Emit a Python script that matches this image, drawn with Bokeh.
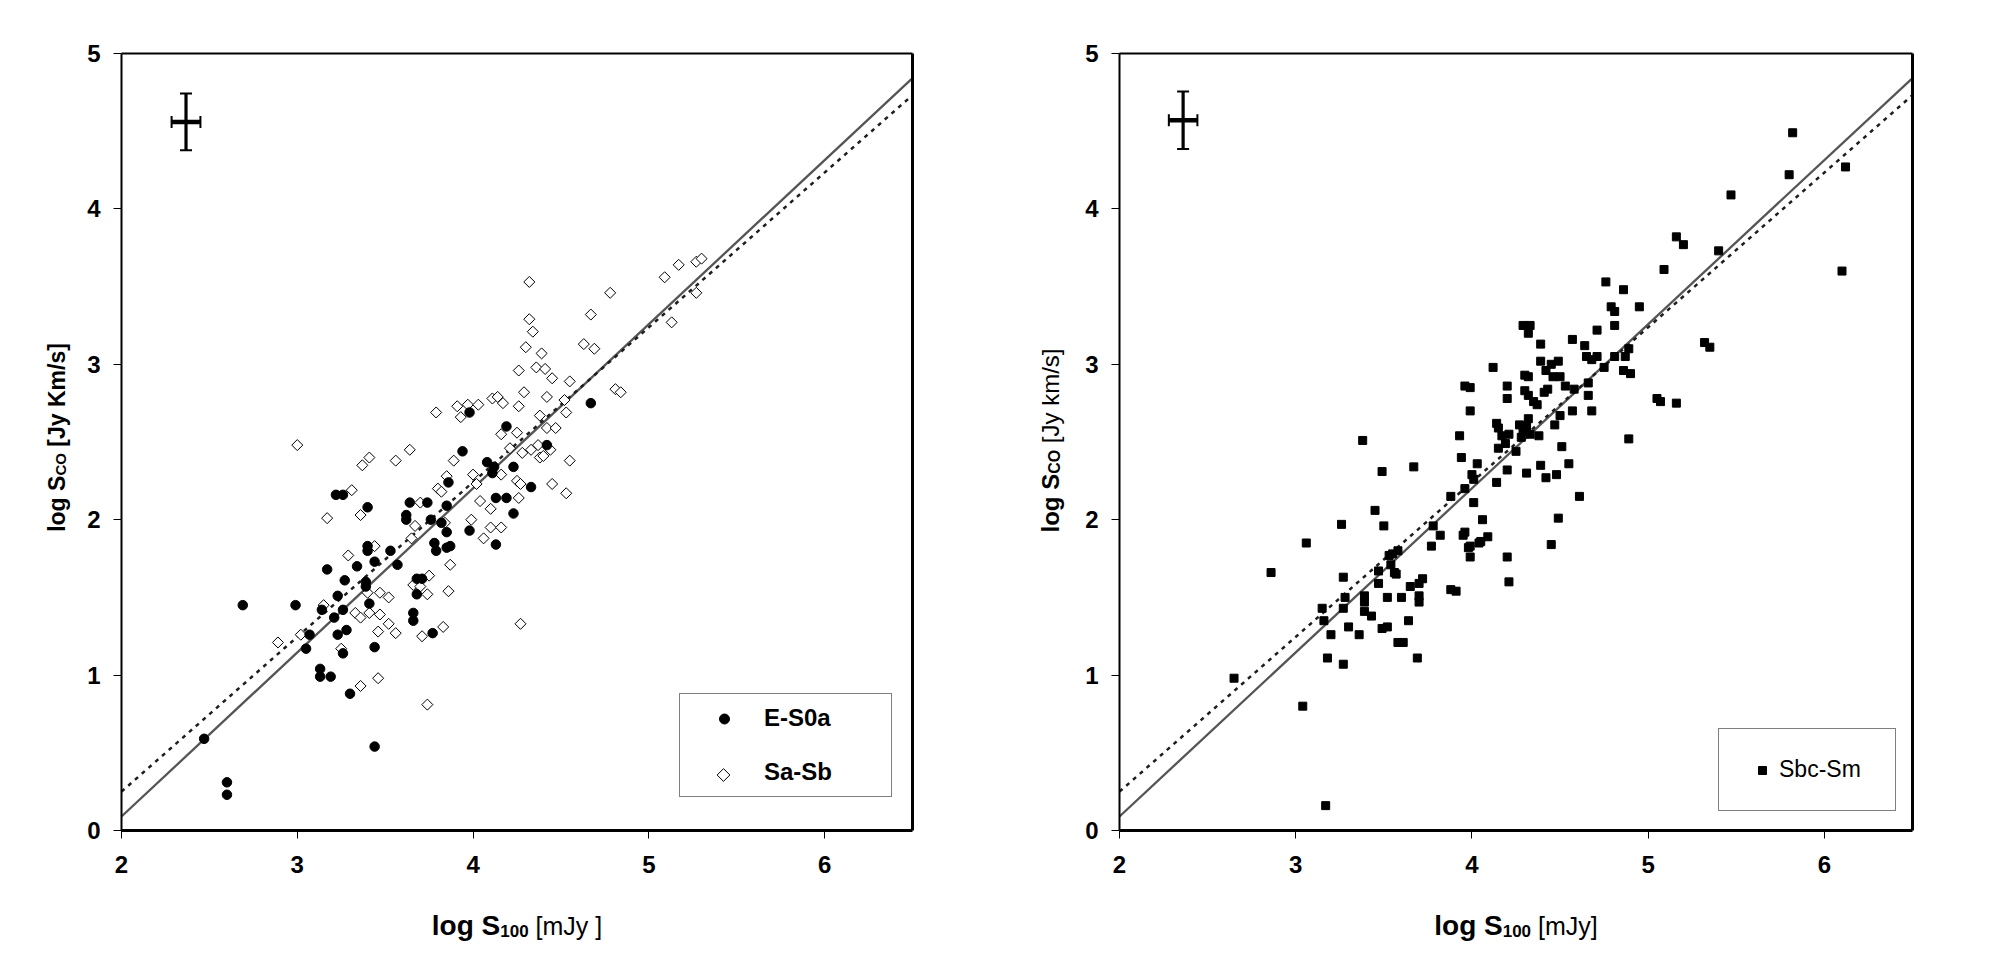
import numpy as np
from bokeh.plotting import figure
from bokeh.models import (ColumnDataSource, Whisker, TeeHead, Label, Legend,
                          LegendItem, LinearAxis, Range1d, FixedTicker)
from bokeh.layouts import row
from bokeh.embed import file_html
from bokeh.resources import INLINE

# ---------------- data ----------------
x_ticks = [2, 3, 4, 5, 6]
y_ticks = [0, 1, 2, 3, 4, 5]
x_limits = (2, 6.5)
y_limits = (0, 5)

es0a_x = [2.47, 2.60, 2.60, 2.69, 2.99, 3.05, 3.07, 3.14, 3.13, 3.13,
          3.19, 3.17, 3.21, 3.22, 3.26, 3.23, 3.23, 3.27, 3.26, 3.28,
          3.26, 3.30, 3.34, 3.39, 3.39, 3.40, 3.40, 3.40, 3.41, 3.44,
          3.44, 3.44, 3.53, 3.57, 3.62, 3.62, 3.64, 3.66, 3.66, 3.68,
          3.68, 3.71, 3.76, 3.74, 3.77, 3.78, 3.79, 3.82, 3.85, 3.85,
          3.85, 3.87, 3.86, 3.94, 3.98, 3.98, 4.08, 4.12, 4.11, 4.13,
          4.19, 4.13, 4.19, 4.23, 4.23, 4.33, 4.42, 4.67]
es0a_y = [0.59, 0.31, 0.23, 1.45, 1.45, 1.17, 1.26, 1.42, 1.04, 0.99,
          0.99, 1.68, 1.37, 2.16, 2.16, 1.51, 1.26, 1.61, 1.42, 1.29,
          1.14, 0.88, 1.70, 1.60, 1.57, 2.08, 1.83, 1.80, 1.46, 1.73,
          1.18, 0.54, 1.80, 1.71, 2.03, 2.00, 2.11, 1.40, 1.35, 1.52,
          1.62, 1.62, 2.00, 2.11, 1.27, 1.85, 1.80, 1.98, 2.09, 1.92,
          1.82, 1.83, 2.24, 2.44, 1.93, 2.69, 2.37, 2.34, 2.30, 2.14,
          2.14, 1.84, 2.60, 2.34, 2.04, 2.21, 2.48, 2.75]

sasb_points = [
    (2.89, 1.21), (3.00, 2.48), (3.02, 1.26), (3.15, 1.45), (3.17, 2.01),
    (3.25, 1.17), (3.29, 1.77), (3.31, 2.19), (3.33, 1.40), (3.36, 1.37),
    (3.36, 2.03), (3.37, 2.35), (3.41, 2.40), (3.36, 0.93), (3.44, 1.83),
    (3.41, 1.40), (3.46, 0.98), (3.46, 1.28), (3.47, 1.53), (3.47, 1.39),
    (3.52, 1.50), (3.52, 1.33), (3.56, 1.27), (3.56, 2.38), (3.64, 2.45),
    (3.65, 1.88), (3.66, 1.58), (3.67, 1.96), (3.70, 2.11), (3.70, 1.57),
    (3.71, 1.25), (3.74, 0.81), (3.74, 1.52), (3.75, 1.64), (3.79, 2.69),
    (3.80, 2.20), (3.82, 2.18), (3.83, 1.31), (3.84, 1.98), (3.85, 2.28),
    (3.86, 1.54), (3.87, 1.71), (3.89, 2.38), (3.91, 2.73), (3.93, 2.66),
    (3.97, 2.74), (4.00, 2.29), (3.99, 2.00), (4.02, 2.23), (4.03, 2.74),
    (4.06, 1.88), (4.04, 2.12), (4.10, 2.07), (4.10, 1.95), (4.11, 2.78),
    (4.14, 2.79), (4.16, 2.55), (4.16, 2.29), (4.16, 1.95), (4.17, 2.75),
    (4.21, 2.46), (4.25, 2.56), (4.26, 2.73), (4.26, 2.96), (4.25, 2.25),
    (4.27, 2.23), (4.26, 2.14), (4.27, 1.33), (4.29, 2.82), (4.28, 2.43),
    (4.30, 3.11), (4.32, 3.53), (4.32, 3.29), (4.34, 3.21), (4.33, 2.45),
    (4.36, 2.98), (4.38, 2.67), (4.38, 2.40), (4.39, 3.07), (4.41, 2.97),
    (4.42, 2.79), (4.42, 2.59), (4.37, 2.48), (4.44, 2.45), (4.45, 2.91),
    (4.45, 2.23), (4.47, 2.59), (4.52, 2.77), (4.53, 2.69), (4.53, 2.17),
    (4.55, 2.38), (4.55, 2.89), (4.63, 3.13), (4.67, 3.32), (4.69, 3.10),
    (4.78, 3.46), (4.81, 2.84), (4.84, 2.82), (5.09, 3.56), (5.13, 3.27),
    (5.17, 3.64), (5.27, 3.66), (5.27, 3.46), (5.30, 3.68), (3.40, 1.53),
    (4.40, 2.41)]

sbcsm_points = [
    (2.65, 0.98), (2.86, 1.66), (3.04, 0.80), (3.06, 1.85), (3.15, 1.43),
    (3.16, 1.35), (3.18, 1.11), (3.17, 0.16), (3.20, 1.26), (3.26, 1.97),
    (3.27, 1.63), (3.27, 1.43), (3.27, 1.07), (3.28, 1.50), (3.30, 1.31),
    (3.36, 1.26), (3.38, 2.51), (3.39, 1.51), (3.39, 1.47), (3.39, 1.41),
    (3.43, 1.38), (3.45, 2.06), (3.47, 1.59), (3.47, 1.67), (3.49, 1.30),
    (3.49, 2.31), (3.50, 1.96), (3.52, 1.31), (3.52, 1.50), (3.53, 1.77),
    (3.54, 1.71), (3.56, 1.66), (3.58, 1.80), (3.58, 1.21), (3.61, 1.21),
    (3.60, 1.50), (3.64, 1.35), (3.65, 1.57), (3.67, 2.34), (3.69, 1.11),
    (3.70, 1.51), (3.70, 1.47), (3.70, 1.59), (3.72, 1.62), (3.77, 1.83),
    (3.78, 1.96), (3.82, 1.90), (3.88, 1.55), (3.88, 2.15), (3.91, 1.54),
    (3.93, 2.54), (3.94, 2.40), (3.96, 2.86), (3.96, 1.92), (3.96, 2.20),
    (3.99, 2.85), (3.99, 2.70), (3.99, 1.83), (3.99, 1.76), (4.00, 2.29),
    (4.01, 2.11), (4.01, 2.26), (4.03, 2.36), (4.05, 1.86), (4.06, 2.00),
    (4.09, 1.89), (4.12, 2.98), (4.14, 2.62), (4.14, 2.24), (4.15, 2.59),
    (4.15, 2.46), (4.17, 2.54), (4.19, 2.49), (4.20, 2.86), (4.20, 2.78),
    (4.20, 2.32), (4.20, 1.76), (4.21, 1.60), (4.21, 2.55), (4.25, 2.44),
    (4.27, 2.61), (4.29, 3.25), (4.29, 2.57), (4.30, 2.93), (4.30, 2.83),
    (4.31, 2.30), (4.32, 3.20), (4.32, 2.92), (4.32, 2.65), (4.33, 3.25),
    (4.32, 2.80), (4.35, 2.76), (4.37, 2.74), (4.38, 2.54), (4.39, 3.13),
    (4.39, 3.02), (4.39, 2.35), (4.41, 2.82), (4.42, 2.27), (4.42, 2.96),
    (4.43, 2.84), (4.45, 1.84), (4.45, 3.00), (4.46, 2.92), (4.47, 2.61),
    (4.48, 2.29), (4.49, 3.02), (4.49, 2.01), (4.50, 2.92), (4.50, 2.67),
    (4.51, 2.47), (4.53, 2.86), (4.55, 2.36), (4.57, 3.16), (4.57, 2.70),
    (4.58, 2.84), (4.61, 2.15), (4.64, 3.12), (4.65, 3.05), (4.66, 2.88),
    (4.66, 2.80), (4.68, 2.70), (4.68, 3.03), (4.71, 3.22), (4.71, 3.05),
    (4.75, 2.98), (4.76, 3.53), (4.79, 3.37), (4.81, 3.34), (4.81, 3.25),
    (4.81, 3.05), (4.86, 3.48), (4.86, 2.96), (4.87, 3.05), (4.89, 3.10),
    (4.89, 2.52), (4.90, 2.94), (4.95, 3.37), (5.05, 2.78), (5.07, 2.76),
    (5.09, 3.61), (5.16, 2.75), (5.16, 3.82), (5.20, 3.77), (5.32, 3.14),
    (5.35, 3.11), (5.40, 3.73), (5.47, 4.09), (5.80, 4.22), (5.82, 4.49),
    (6.10, 3.60), (6.12, 4.27), (4.31, 2.60), (4.33, 2.55), (4.28, 2.53),
    (3.55, 1.78), (3.57, 1.65), (4.04, 1.85), (3.98, 1.82), (3.95, 1.90)]

# regression lines: (slope, intercept)
fit_solid = (1.056, -2.022)
fit_dotted = (0.996, -1.742)

# typical error bars (centre x, centre y, x error, y error)
err_left = (2.367, 4.56, 0.082, 0.183)
err_right = (2.361, 4.57, 0.081, 0.185)

# ---------------- layout constants (page pixels) ----------------
FONT = "Liberation Sans"
PAGE_H = 960
DATA_TOP = 53
DATA_BOTTOM = 830

BOLD_W = {'l': .278, 'o': .611, 'g': .611, ' ': .278, 'S': .667, 'C': .722,
          'O': .778, '1': .556, '0': .556, '[': .333, ']': .333, 'J': .556,
          'y': .556, 'K': .722, 'm': .889, '/': .278, 's': .556, 'k': .556}
REG_W = {' ': .278, '[': .278, ']': .278, 'm': .833, 'J': .5, 'y': .5,
         'k': .5, '/': .278, 's': .5, 'K': .667}


def text_w(t, size, bold):
    table = BOLD_W if bold else REG_W
    return sum(table.get(c, .556) for c in t) * size


def make_fig(canvas_left, canvas_w, data_left, data_w):
    kx = (x_limits[1] - x_limits[0]) / data_w
    ky = (y_limits[1] - y_limits[0]) / (DATA_BOTTOM - DATA_TOP)
    xs = x_limits[0] - (data_left - canvas_left) * kx
    xe = xs + canvas_w * kx
    ye = y_limits[1] + DATA_TOP * ky
    ys = ye - PAGE_H * ky
    p = figure(x_range=Range1d(xs, xe), y_range=Range1d(ys, ye),
               width=canvas_w, height=PAGE_H,
               min_border_left=0, min_border_right=0,
               min_border_top=0, min_border_bottom=0,
               x_axis_location=None, y_axis_location=None,
               output_backend="svg", toolbar_location=None,
               background_fill_color="white", border_fill_color="white")
    p.title.visible = False
    p.grid.visible = False
    p.outline_line_color = None

    def style(ax):
        ax.minor_tick_line_color = None
        ax.major_tick_in = 0
        ax.major_tick_out = 8
        ax.major_tick_line_width = 1
        ax.major_tick_line_color = "black"
        ax.axis_line_color = "black"
        ax.major_label_text_font = FONT
        ax.major_label_text_font_style = "bold"
        ax.major_label_text_font_size = "24px"
        ax.major_label_text_color = "black"

    xa = LinearAxis(fixed_location=y_limits[0], bounds=x_limits,
                    ticker=FixedTicker(ticks=x_ticks), axis_line_width=3,
                    major_label_standoff=17)
    style(xa)
    ya = LinearAxis(fixed_location=x_limits[0], bounds=y_limits,
                    ticker=FixedTicker(ticks=y_ticks), axis_line_width=2,
                    major_label_standoff=13)
    style(ya)
    p.add_layout(xa, "below")
    p.add_layout(ya, "left")
    ta = LinearAxis(fixed_location=y_limits[1], bounds=x_limits,
                    ticker=FixedTicker(ticks=[]), axis_line_width=2,
                    axis_line_color="black", major_tick_line_color=None,
                    minor_tick_line_color=None,
                    major_label_text_font_size="0px")
    ra = LinearAxis(fixed_location=x_limits[1], bounds=y_limits,
                    ticker=FixedTicker(ticks=[]), axis_line_width=3,
                    axis_line_color="black", major_tick_line_color=None,
                    minor_tick_line_color=None,
                    major_label_text_font_size="0px")
    p.add_layout(ta, "above")
    p.add_layout(ra, "right")

    def px_x(px):
        return xs + (px - canvas_left) * kx

    def py_y(py):
        return ye - py * ky

    p._px_x = px_x
    p._py_y = py_y
    return p


def add_lines(p):
    xs = np.array(x_limits, dtype=float)
    p.line(xs, fit_solid[0] * xs + fit_solid[1], line_color="#555555",
           line_width=2.3)
    p.line(xs, fit_dotted[0] * xs + fit_dotted[1], line_color="#1e1e1e",
           line_width=2.5, line_dash="4 5")


def add_error_cross(p, err):
    cx, cy, ex, ey = err
    src = ColumnDataSource(dict(x=[cx], y=[cy], xl=[cx - ex], xu=[cx + ex],
                                yl=[cy - ey], yu=[cy + ey]))
    wv = Whisker(source=src, base="x", lower="yl", upper="yu",
                 dimension="height", line_width=3.2, line_color="black",
                 upper_head=TeeHead(size=12, line_width=2, line_color="black"),
                 lower_head=TeeHead(size=12, line_width=2, line_color="black"))
    wh = Whisker(source=src, base="y", lower="xl", upper="xu",
                 dimension="width", line_width=4.5, line_color="black",
                 upper_head=TeeHead(size=12, line_width=2, line_color="black"),
                 lower_head=TeeHead(size=12, line_width=2, line_color="black"))
    p.add_layout(wv)
    p.add_layout(wh)


def _lead(t, s, b):
    # SVG collapses leading blanks: move them into the position instead
    stripped = t.lstrip(" ")
    return stripped, text_w(t[:len(t) - len(stripped)], s, b)


def add_hlabel(p, pieces, center_px, baseline_py):
    # pieces: (text, size, bold, baseline shift px)
    widths = [text_w(t, s, b) for t, s, b, _ in pieces]
    start = center_px - sum(widths) / 2
    for (t, s, b, dy), w in zip(pieces, widths):
        txt, lead = _lead(t, s, b)
        p.add_layout(Label(x=p._px_x(start + lead),
                           y=p._py_y(baseline_py + dy),
                           text=txt, text_font=FONT, text_font_size=f"{s}px",
                           text_font_style="bold" if b else "normal",
                           text_align="left", text_baseline="alphabetic",
                           text_color="black"))
        start += w


def add_vlabel(p, pieces, center_py, baseline_px):
    widths = [text_w(t, s, b) for t, s, b, _ in pieces]
    start = center_py + sum(widths) / 2
    for (t, s, b, dx), w in zip(pieces, widths):
        txt, lead = _lead(t, s, b)
        p.add_layout(Label(x=p._px_x(baseline_px + dx),
                           y=p._py_y(start - lead),
                           text=txt, text_font=FONT, text_font_size=f"{s}px",
                           text_font_style="bold" if b else "normal",
                           text_align="left", text_baseline="alphabetic",
                           angle=np.pi / 2, text_color="black"))
        start -= w


# ---------------- left panel ----------------
L_CANVAS, L_W = 0, 1005
L_FL, L_FW = 121, 791
p1 = make_fig(L_CANVAS, L_W, L_FL, L_FW)
add_lines(p1)
r_sasb = p1.scatter([a for a, b in sasb_points], [b for a, b in sasb_points],
                    marker="square", angle=np.pi / 4, size=7.8,
                    fill_color="white", line_color="black", line_width=1)
r_es0a = p1.scatter(es0a_x, es0a_y, marker="circle", size=9.5,
                    fill_color="black", line_color="black")
add_error_cross(p1, err_left)

# legend box (page px): left 679, bottom 797; the Sa-Sb key symbol is the
# same rotated square as the data, drawn at the legend glyph slot
LEG1_LEFT, LEG1_BOTTOM, LEG1_PAD, LEG1_SPACING, LEG1_ITEM = 679, 797, 10, 26, 25
LEG1_GW = 68
r_key = p1.scatter([], [], marker="square", fill_alpha=0, line_alpha=0)
leg1 = Legend(items=[LegendItem(label="E-S0a", renderers=[r_es0a]),
                     LegendItem(label="Sa-Sb", renderers=[r_key])],
              location=(LEG1_LEFT - L_CANVAS, PAGE_H - LEG1_BOTTOM),
              orientation="vertical",
              padding=LEG1_PAD, spacing=LEG1_SPACING, margin=0,
              glyph_width=LEG1_GW, glyph_height=LEG1_ITEM, label_standoff=6,
              label_width=117, label_height=LEG1_ITEM,
              label_text_font=FONT, label_text_font_style="bold",
              label_text_font_size="24px", label_text_color="black",
              border_line_color="black", border_line_width=1,
              background_fill_alpha=0)
p1.add_layout(leg1)
leg1_top = LEG1_BOTTOM - (2 * LEG1_PAD + 2 * LEG1_ITEM + LEG1_SPACING)
key_px = LEG1_LEFT + LEG1_PAD + LEG1_GW / 2
key_py = leg1_top + LEG1_PAD + LEG1_ITEM + LEG1_SPACING + LEG1_ITEM / 2
p1.scatter([p1._px_x(key_px)], [p1._py_y(key_py)], marker="square",
           angle=np.pi / 4, size=9, fill_color="white", line_color="black",
           line_width=1)

add_hlabel(p1, [("log S", 28, True, 0), ("100", 17, True, 5),
                (" [mJy ]", 25, False, 0)],
           center_px=L_FL + L_FW / 2, baseline_py=925)
add_vlabel(p1, [("log S", 23, True, 0), ("CO", 15, True, 3.5),
                (" [Jy Km/s]", 23, True, 0)],
           center_py=437, baseline_px=56.5)

# ---------------- right panel ----------------
R_CANVAS, R_W = 1005, 985
R_FL, R_FW = 1119, 793
p2 = make_fig(R_CANVAS, R_W, R_FL, R_FW)
add_lines(p2)
r_sbc = p2.scatter([a for a, b in sbcsm_points], [b for a, b in sbcsm_points],
                   marker="square", size=8, fill_color="black",
                   line_color="black")
add_error_cross(p2, err_right)
leg2 = Legend(items=[LegendItem(label="Sbc-Sm", renderers=[r_sbc])],
              location=(1718 - R_CANVAS, PAGE_H - 811),
              orientation="vertical",
              padding=27, spacing=0, margin=0,
              glyph_width=32, glyph_height=20, label_standoff=1,
              label_width=89, label_height=26,
              label_text_font=FONT, label_text_font_style="normal",
              label_text_font_size="23px", label_text_color="black",
              border_line_color="black", border_line_width=1,
              background_fill_color="white", background_fill_alpha=1)
p2.add_layout(leg2)
add_hlabel(p2, [("log S", 28, True, 0), ("100", 17, True, 5),
                (" [mJy]", 25, False, 0)],
           center_px=R_FL + R_FW / 2, baseline_py=925)
add_vlabel(p2, [("log S", 24, True, 0), ("CO", 16, True, 3.5),
                (" [Jy km/s]", 24, False, 0)],
           center_py=440, baseline_px=R_FL - 69)

layout = row(p1, p2)
open("out.html", "w").write(file_html(layout, INLINE))
